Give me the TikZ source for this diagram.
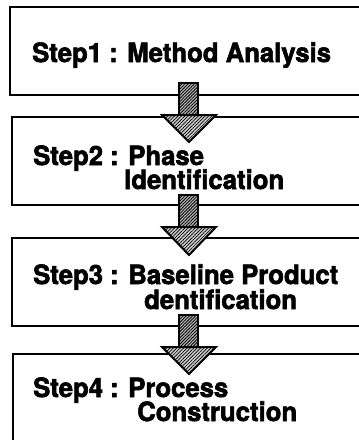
\documentclass[tikz,border=0pt]{standalone}
\usepackage{fontspec}
\setmainfont{TeX Gyre Heros}
\newfontfamily\lblfont{TeX Gyre Heros Bold}[FakeBold=2.2, FakeStretch=0.97]
\usetikzlibrary{patterns.meta,calc}

% hatched block arrow: shaft from #1 down to #2, head from #2 to the tip #3
\newcommand\flowarrow[3]{%
  \draw[shaftbox] ($(#1)+(-10,0)$) rectangle ($(#2)+(9,0)$);
  \draw[headtri] ($(#2)+(-27,0)$) -- ($(#2)+(27,0)$) -- (#3) -- cycle;}

\begin{document}
\begin{tikzpicture}[x=1pt,y=-1pt,
  stepbox/.style={draw, line width=2.4pt, rectangle, inner sep=0pt, outer sep=0pt,
                  anchor=north west, minimum width=380pt},
  lbl/.style={font=\fontsize{26.5}{28}\lblfont, inner sep=0pt, anchor=base west},
  shaftbox/.style={draw, line width=2pt, preaction={fill=gray!60},
                   pattern={Lines[angle=45,distance=2.2pt,line width=0.8pt]}},
  headtri/.style={draw, line width=2pt, line join=miter, preaction={fill=gray!40},
                  pattern={Lines[angle=45,distance=2.4pt,line width=0.7pt]}}]
\clip (0,0) rectangle (359,440);
\fill[white] (0,0) rectangle (359,440);

% step boxes (open to the right)
\node[stepbox, minimum height=88pt]  (b1) at (10,7) {};
\node[stepbox, minimum height=88pt]  (b2) at (12,117) {};
\node[stepbox, minimum height=88pt]  (b3) at (12,238) {};
\node[stepbox, minimum height=100pt] (b4) at (13,354) {};

% labels
\node[lbl] (t1)  at (32,62)   {Step1 : Method Analysis};
\node[lbl] (t2a) at (33,165)  {Step2 : Phase};
\node[lbl] (t2b) at (124,189) {Identification};
\node[lbl] (t3a) at (33,284)  {Step3 : Baseline Product};
\node[lbl] (t3b) at (144,309) {dentification};
\node[lbl] (t4a) at (33,397)  {Step4 : Process};
\node[lbl] (t4b) at (137,421) {Construction};

% arrow axis and arrow key points
\coordinate (ax) at (189,0);
\coordinate (s1) at ($(ax |- b1.south)+(0,-12)$);
\coordinate (h1) at ($(ax |- b2.north)+(0,-2)$);
\coordinate (p1) at ($(ax |- b2.north)+(0,25)$);
\coordinate (s2) at ($(ax |- b2.south)+(0,-10)$);
\coordinate (h2) at ($(ax |- b3.north)+(0,-11)$);
\coordinate (p2) at ($(ax |- b3.north)+(0,17)$);
\coordinate (s3) at ($(ax |- b3.south)+(0,-11)$);
\coordinate (h3) at ($(ax |- b4.north)+(0,-7)$);
\coordinate (p3) at ($(ax |- b4.north)+(0,20)$);

\flowarrow{s1}{h1}{p1}
\flowarrow{s2}{h2}{p2}
\flowarrow{s3}{h3}{p3}
\end{tikzpicture}
\end{document}
